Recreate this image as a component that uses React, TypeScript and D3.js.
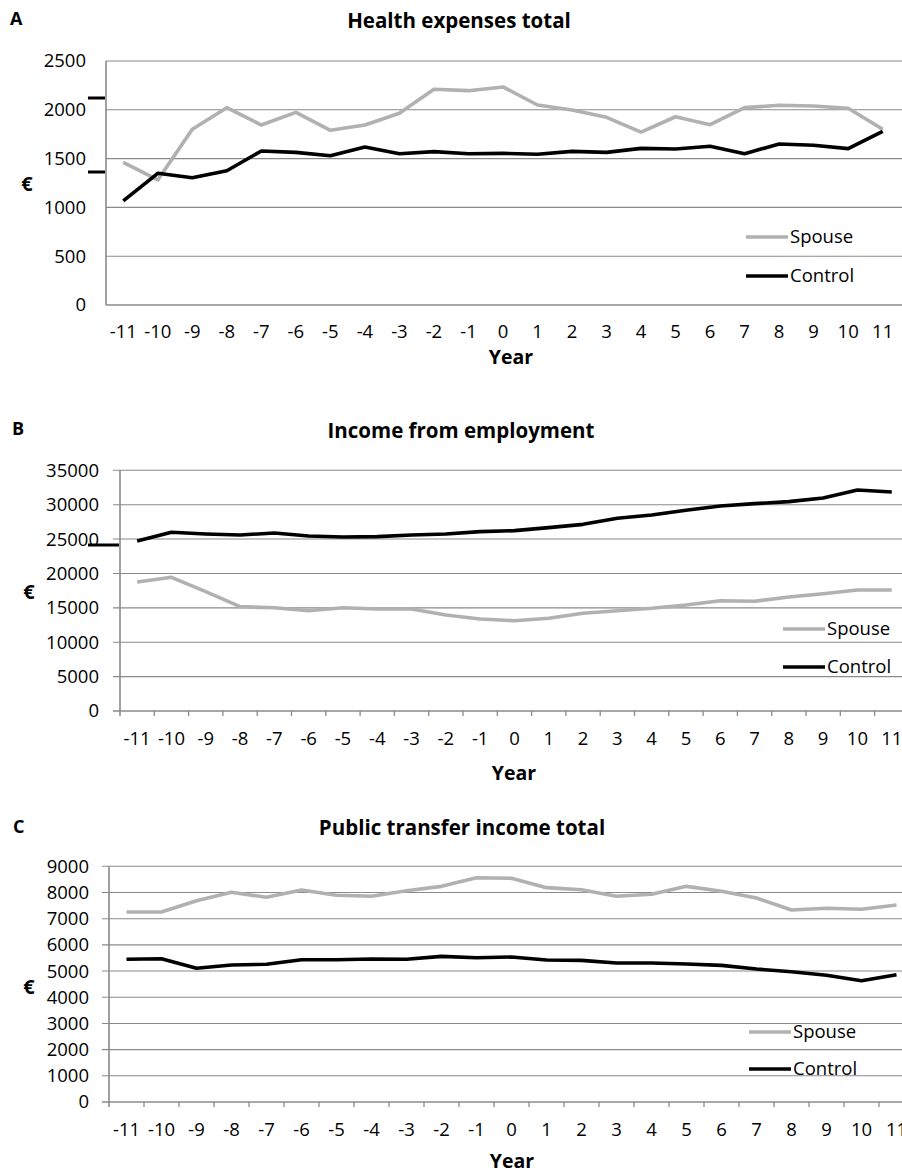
import React from "react";
import * as d3 from "d3";

const years = ["-11","-10","-9","-8","-7","-6","-5","-4","-3","-2","-1","0","1","2","3","4","5","6","7","8","9","10","11"];

const healthSpouse = [1462,1281,1800,2022,1844,1974,1790,1844,1964,2210,2196,2234,2049,1998,1923,1772,1929,1847,2022,2046,2039,2015,1800];
const healthControl = [1066,1349,1304,1376,1578,1564,1530,1619,1550,1571,1550,1554,1544,1574,1564,1605,1598,1626,1550,1650,1636,1602,1780];

const incomeSpouse = [18758,19440,17350,15170,15020,14585,15020,14830,14830,13950,13378,13130,13480,14207,14585,14935,15414,16038,15950,16577,17058,17595,17595];
const incomeControl = [24720,25985,25738,25592,25883,25447,25301,25350,25592,25738,26077,26222,26659,27143,28016,28500,29180,29810,30150,30440,30970,32135,31845];

const transferSpouse = [7255,7255,7686,8006,7816,8095,7892,7854,8069,8234,8565,8540,8184,8107,7854,7930,8234,8045,7790,7331,7396,7358,7522];
const transferControl = [5448,5472,5105,5231,5257,5434,5434,5460,5448,5562,5510,5536,5422,5409,5307,5307,5269,5218,5078,4975,4838,4632,4861];

const ticksA = [0,500,1000,1500,2000,2500];
const ticksB = [0,5000,10000,15000,20000,25000,30000,35000];
const ticksC = [0,1000,2000,3000,4000,5000,6000,7000,8000,9000];

const seriesNames = ["Spouse","Control"];
const FONT = "'Open Sans', sans-serif";
const GRID = "#8a8a8a";
const SPOUSE = "#b1b1b1";
const CONTROL = "#000000";

type PanelProps = {
  letter: string; title: string;
  spouse: number[]; control: number[]; ticks: number[];
  left: number; top: number; bottom: number; band: number;
  yLabelRight: number; yTickLen: number; xTickLen: number;
  xLabelY: number; titleX: number; titleY: number; letterX: number; letterY: number;
  euroX: number; euroY: number; yearX: number; yearY: number;
  legendX: number; legendY1: number; legendY2: number;
  markers: number[]; markerX0: number; markerX1: number;
};

function Panel(p: PanelProps) {
  const x = d3.scaleBand<string>().domain(years).range([p.left, p.left + p.band * years.length]);
  const y = d3.scaleLinear().domain([0, p.ticks[p.ticks.length - 1]]).range([p.bottom, p.top]);
  const line = d3.line<number>().x((_, i) => (x(years[i]) as number) + x.bandwidth() / 2).y((v) => y(v));
  const right = 902;
  return (
    <g>
      <text x={p.letterX} y={p.letterY} fontFamily={FONT} fontWeight="bold" fontSize={18}>{p.letter}</text>
      <text x={p.titleX} y={p.titleY} fontFamily={FONT} fontWeight="bold" fontSize={20.5} textAnchor="middle">{p.title}</text>
      {p.ticks.map((t) => (
        <g key={t}>
          <line x1={p.left - p.yTickLen} x2={right} y1={y(t)} y2={y(t)} stroke={GRID} strokeWidth={t === 0 ? 1.6 : 1.1} />
          <text x={p.yLabelRight} y={y(t)} dy="0.35em" textAnchor="end" fontFamily={FONT} fontSize={18.5} fill="#000">{t}</text>
        </g>
      ))}
      <line x1={p.left} x2={p.left} y1={p.top} y2={p.bottom + p.xTickLen} stroke={GRID} strokeWidth={1.6} />
      {p.xTickLen > 0 && years.map((yr) => (
        <line key={"t" + yr} x1={(x(yr) as number) + p.band} x2={(x(yr) as number) + p.band} y1={p.bottom} y2={p.bottom + p.xTickLen} stroke={GRID} strokeWidth={1.3} />
      ))}
      {years.map((yr) => (
        <text key={yr} x={(x(yr) as number) + x.bandwidth() / 2} y={p.xLabelY} dy="0.35em" textAnchor="middle" fontFamily={FONT} fontSize={18.5} fill="#000">{yr}</text>
      ))}
      <text x={p.yearX} y={p.yearY} dy="0.35em" textAnchor="middle" fontFamily={FONT} fontWeight="bold" fontSize={19.5}>Year</text>
      <text x={p.euroX} y={p.euroY} dy="0.35em" textAnchor="middle" fontFamily={FONT} fontWeight="bold" fontSize={20}>€</text>
      {p.markers.map((m) => (
        <line key={"m" + m} x1={p.markerX0} x2={p.markerX1} y1={m} y2={m} stroke="#000" strokeWidth={3} />
      ))}
      <path d={line(p.spouse) || ""} fill="none" stroke={SPOUSE} strokeWidth={3.6} strokeLinejoin="round" />
      <path d={line(p.control) || ""} fill="none" stroke={CONTROL} strokeWidth={3.6} strokeLinejoin="round" />
      {seriesNames.map((s, i) => {
        const ly = i === 0 ? p.legendY1 : p.legendY2;
        return (
          <g key={s}>
            <line x1={p.legendX} x2={p.legendX + 42} y1={ly} y2={ly} stroke={i === 0 ? SPOUSE : CONTROL} strokeWidth={3.6} />
            <text x={p.legendX + 44} y={ly} dy="0.35em" fontFamily={FONT} fontSize={18.5} fill="#000">{s}</text>
          </g>
        );
      })}
    </g>
  );
}

export default function App() {
  return (
    <svg width={902} height={1174} style={{ position: "absolute", left: 0, top: 0, background: "#fff" }}>
      <rect x={0} y={0} width={902} height={1174} fill="#fff" />
      <Panel letter="A" title="Health expenses total" spouse={healthSpouse} control={healthControl} ticks={ticksA}
        left={106} top={61} bottom={305} band={34.52} yLabelRight={86} yTickLen={0} xTickLen={0}
        xLabelY={332} titleX={459} titleY={28} letterX={10} letterY={25} euroX={27} euroY={184}
        yearX={511} yearY={357} legendX={746} legendY1={237} legendY2={276}
        markers={[98, 172]} markerX0={88} markerX1={105} />
      <Panel letter="B" title="Income from employment" spouse={incomeSpouse} control={incomeControl} ticks={ticksB}
        left={120} top={470.3} bottom={711} band={34.3} yLabelRight={99} yTickLen={7} xTickLen={5}
        xLabelY={739} titleX={461} titleY={438} letterX={12} letterY={435} euroX={29} euroY={592}
        yearX={514} yearY={773} legendX={783} legendY1={629} legendY2={667}
        markers={[545]} markerX0={88} markerX1={119} />
      <Panel letter="C" title="Public transfer income total" spouse={transferSpouse} control={transferControl} ticks={ticksC}
        left={109} top={866.3} bottom={1102} band={35} yLabelRight={89} yTickLen={7} xTickLen={5}
        xLabelY={1130} titleX={462} titleY={835} letterX={13} letterY={833} euroX={29} euroY={987}
        yearX={512} yearY={1161} legendX={749} legendY1={1032} legendY2={1069}
        markers={[]} markerX0={0} markerX1={0} />
    </svg>
  );
}
